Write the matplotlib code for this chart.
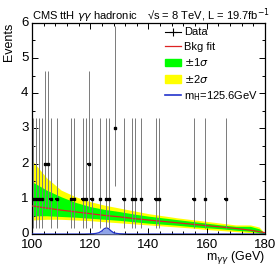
import numpy as np
import matplotlib.pyplot as plt
from matplotlib.lines import Line2D
from matplotlib.patches import Patch
from matplotlib.ticker import MultipleLocator
from matplotlib.transforms import ScaledTranslation

plt.rcParams['font.family'] = ['Liberation Sans', 'DejaVu Sans']

# data: bin centres (1 GeV bins) and counts
mgg = [100.5, 101.5, 102.5, 103.5, 104.5, 105.5, 106.5, 108.5, 113.5, 114.5,
       117.5, 118.5, 119.5, 120.5, 123.5, 125.5, 126.5, 128.5, 131.5, 134.5,
       135.5, 137.5, 142.5, 143.5, 155.5, 159.5, 166.5]
counts = [1, 1, 1, 1, 2, 2, 1, 1, 1, 1,
          1, 1, 2, 1, 1, 1, 1, 3, 1, 1,
          1, 1, 1, 1, 1, 1, 1]

# background fit and bands
fit_x = [100, 105, 110, 115, 120, 125, 130, 135, 140, 145, 150, 155, 160, 165, 170, 175, 178, 180]
fit_y = [0.80, 0.74, 0.68, 0.63, 0.58, 0.53, 0.49, 0.44, 0.40, 0.36, 0.32, 0.28, 0.24, 0.20, 0.16, 0.11, 0.07, 0.04]
s1_lo = [0.52, 0.52, 0.50, 0.48, 0.45, 0.42, 0.39, 0.35, 0.31, 0.28, 0.25, 0.21, 0.18, 0.15, 0.11, 0.08, 0.04, 0.00]
s1_hi = [1.49, 1.25, 1.06, 0.90, 0.78, 0.70, 0.64, 0.57, 0.51, 0.46, 0.41, 0.36, 0.31, 0.26, 0.22, 0.22, 0.15, 0.02]
s2_lo = [0.40, 0.42, 0.42, 0.40, 0.38, 0.35, 0.32, 0.29, 0.26, 0.23, 0.20, 0.17, 0.13, 0.10, 0.07, 0.04, 0.02, 0.00]
s2_hi = [2.10, 1.60, 1.25, 1.06, 0.92, 0.82, 0.74, 0.66, 0.58, 0.52, 0.46, 0.41, 0.36, 0.31, 0.26, 0.26, 0.20, 0.02]

# signal shape (mH = 125.6 GeV)
sig_x = [100, 118, 121, 122, 123, 124, 124.8, 125.6, 126.4, 127, 128, 129, 130, 133, 180]
sig_y = [0.00, 0.00, 0.01, 0.02, 0.04, 0.09, 0.15, 0.18, 0.15, 0.10, 0.04, 0.02, 0.01, 0.00, 0.00]

# Poisson-like asymmetric errors
err_lo = {1: 0.83, 2: 1.29, 3: 1.63}
err_hi = {1: 2.30, 2: 2.64, 3: 2.92}

fig = plt.figure(figsize=(2.78, 2.66), dpi=100)
ax = fig.add_axes([0.115, 0.120, 0.838, 0.794])

ax.fill_between(fit_x, s2_lo, s2_hi, color='#ffff00', lw=0, zorder=1)
ax.fill_between(fit_x, s1_lo, s1_hi, color='#00ff00', lw=0, zorder=2)
ax.plot(fit_x, fit_y, color='#dd2222', lw=0.9, zorder=3)

ax.fill_between(sig_x, 0, sig_y, color='#8fa4e8', lw=0, zorder=3)
ax.plot(sig_x, sig_y, color='#2233cc', lw=0.9, zorder=4)

yerr = [[err_lo[c] for c in counts], [err_hi[c] for c in counts]]
ax.errorbar(mgg, counts, yerr=yerr, fmt='none', ecolor='#7a7a7a', elinewidth=0.7,
            capsize=0, zorder=5)
ax.errorbar(mgg, counts, xerr=0.5, fmt='s', ms=1.6, color='black', ecolor='black',
            elinewidth=1.4, capsize=0, zorder=6)

ax.set_xlim(100, 180)
ax.set_ylim(0, 6)
ax.xaxis.set_major_locator(MultipleLocator(20))
ax.xaxis.set_minor_locator(MultipleLocator(4))
ax.yaxis.set_major_locator(MultipleLocator(1))
ax.yaxis.set_minor_locator(MultipleLocator(0.5))
ax.tick_params(which='both', direction='in', top=True, right=True, labelsize=9.5)
ax.tick_params(axis='x', pad=3.5)
ax.tick_params(axis='y', pad=2.5)
ax.tick_params(which='major', length=4, width=0.7)
ax.tick_params(which='minor', length=2, width=0.7)
for s in ax.spines.values():
    s.set_linewidth(0.9)

# nudge the y tick labels up a touch so "0" clears "100"
for lab in ax.get_yticklabels():
    lab.set_transform(lab.get_transform() + ScaledTranslation(0, 1.2 / 72, fig.dpi_scale_trans))

ax.set_ylabel('Events', fontsize=9, loc='top', labelpad=4)
ax.set_xlabel(r'm$_{\gamma\gamma}$ (GeV)', fontsize=9, loc='right', labelpad=-1.5)

fig.text(0.115, 0.928, r'CMS ttH $\gamma\gamma$ hadronic', fontsize=8, va='baseline')
fig.text(0.527, 0.928, '\u221as = 8 TeV, L = 19.7fb$^{-1}$', fontsize=8, va='baseline')

data_handle = Line2D([], [], color='black', marker='+', ms=6, mew=0.8, lw=0.8)
handles = [
    data_handle,
    Line2D([], [], color='#dd2222', lw=0.9),
    Patch(color='#00ff00'),
    Patch(color='#ffff00'),
    Line2D([], [], color='#2233cc', lw=1.2),
]
labels = ['Data', 'Bkg fit', r'$\pm$1$\sigma$', r'$\pm$2$\sigma$', r'm$_{\rm H}$=125.6GeV']
ax.legend(handles, labels, loc='upper right', bbox_to_anchor=(1.0, 1.01), frameon=False,
          fontsize=8, handlelength=1.4, handletextpad=0.3, labelspacing=0.4, borderaxespad=0.2)

fig.savefig('out.png', dpi=100)
